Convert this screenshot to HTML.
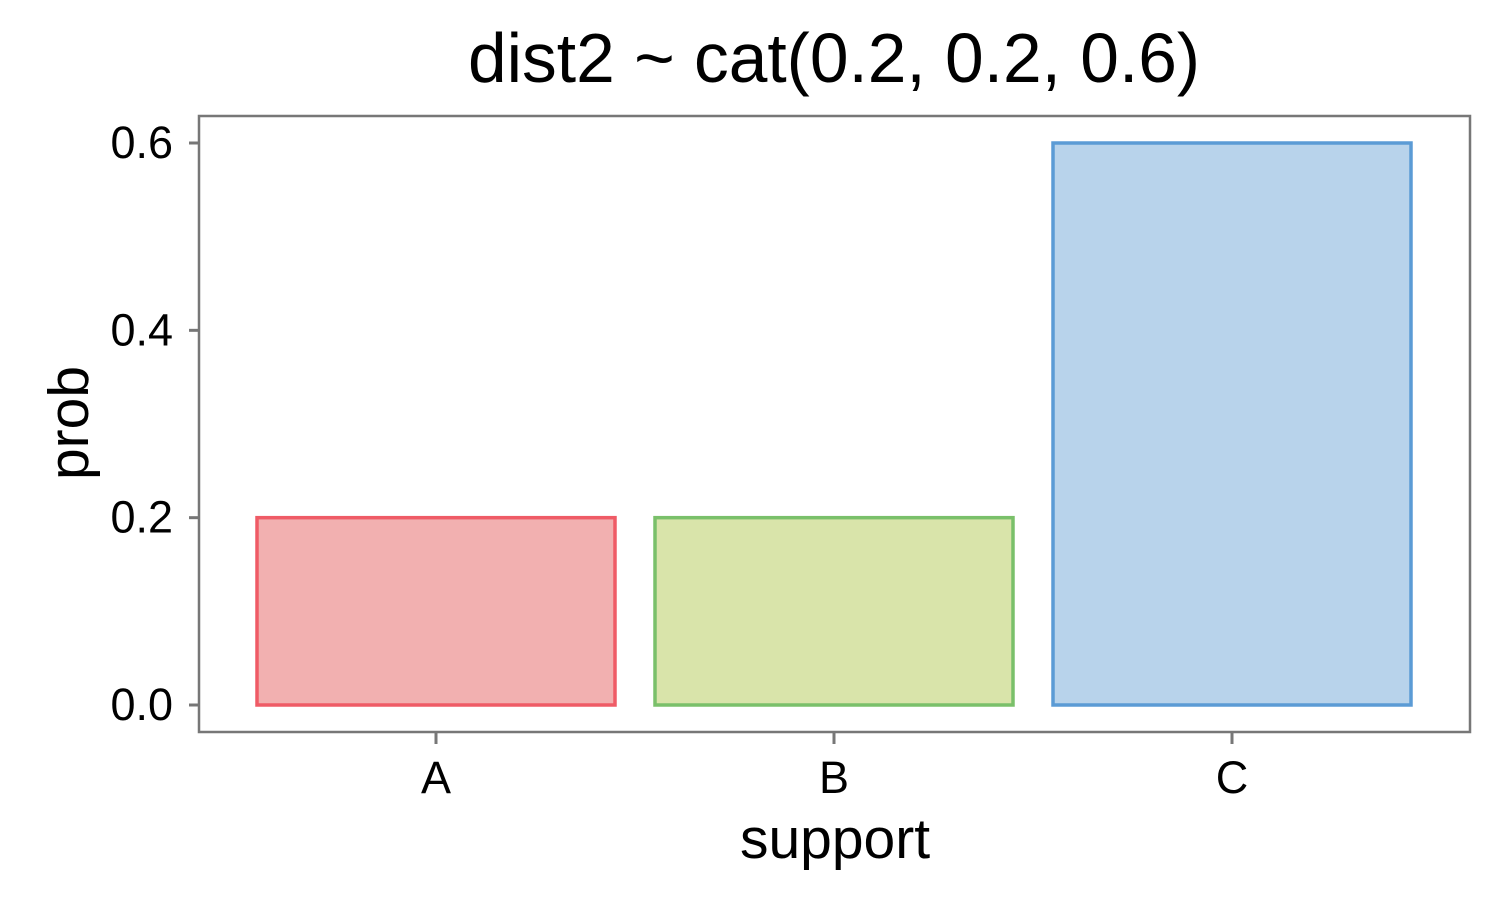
<!DOCTYPE html>
<html><head><meta charset="utf-8"><style>
body{margin:0;background:#fff;}
svg{display:block;font-family:"Liberation Sans",Arial,sans-serif;}
</style></head><body>
<svg id="chart" width="1500" height="900">
<text x="834" y="82" font-size="69.5" text-anchor="middle" fill="#000">dist2 ~ cat(0.2, 0.2, 0.6)</text>
<rect x="199" y="116" width="1271" height="616" fill="none" stroke="#777" stroke-width="2.5"/>
<g id="bars"></g><g id="yaxis"></g><g id="xaxis"></g>
<text x="835" y="858" font-size="57" text-anchor="middle">support</text>
<text transform="translate(88,423) rotate(-90)" font-size="57" text-anchor="middle">prob</text>
</svg>
<script>
const categories=["A","B","C"];
const probs=[0.2,0.2,0.6];
const yTicks=[0,0.2,0.4,0.6];
const yTickLabels=["0.0","0.2","0.4","0.6"];
const strokes=["#ef5b66","#7ac06a","#5b9bd5"];
const fills=["#f2b0b0","#d9e4aa","#b8d3eb"];
const NS="http://www.w3.org/2000/svg";
const y=v=>705-v*(705-143)/0.6;
const x=i=>436+i*398;
const bw=358;
function mk(t,a,p){const e=document.createElementNS(NS,t);for(const k in a)e.setAttribute(k,a[k]);p.appendChild(e);return e;}
const bars=document.getElementById('bars');
categories.forEach((c,i)=>{
 const r=mk('rect',{x:x(i)-bw/2,y:y(probs[i]),width:bw,height:y(0)-y(probs[i]),fill:fills[i],stroke:strokes[i],'stroke-width':3.5},bars);
 
 
});
const ya=document.getElementById('yaxis');
yTicks.forEach((v,i)=>{
 const l=mk('line',{x1:189,x2:199,y1:y(v),y2:y(v),stroke:'#777','stroke-width':3},ya);
 
 
 const t=mk('text',{x:173,y:y(v)+15,'font-size':45,'text-anchor':'end'},ya);
 t.textContent=yTickLabels[i];
 
 
});
const xa=document.getElementById('xaxis');
categories.forEach((c,i)=>{
 const l=mk('line',{x1:x(i),x2:x(i),y1:732,y2:744,stroke:'#777','stroke-width':3},xa);
 
 
 const t=mk('text',{x:x(i),y:793,'font-size':45,'text-anchor':'middle'},xa);
 t.textContent=c;
 
 
});
</script>
</body></html>
